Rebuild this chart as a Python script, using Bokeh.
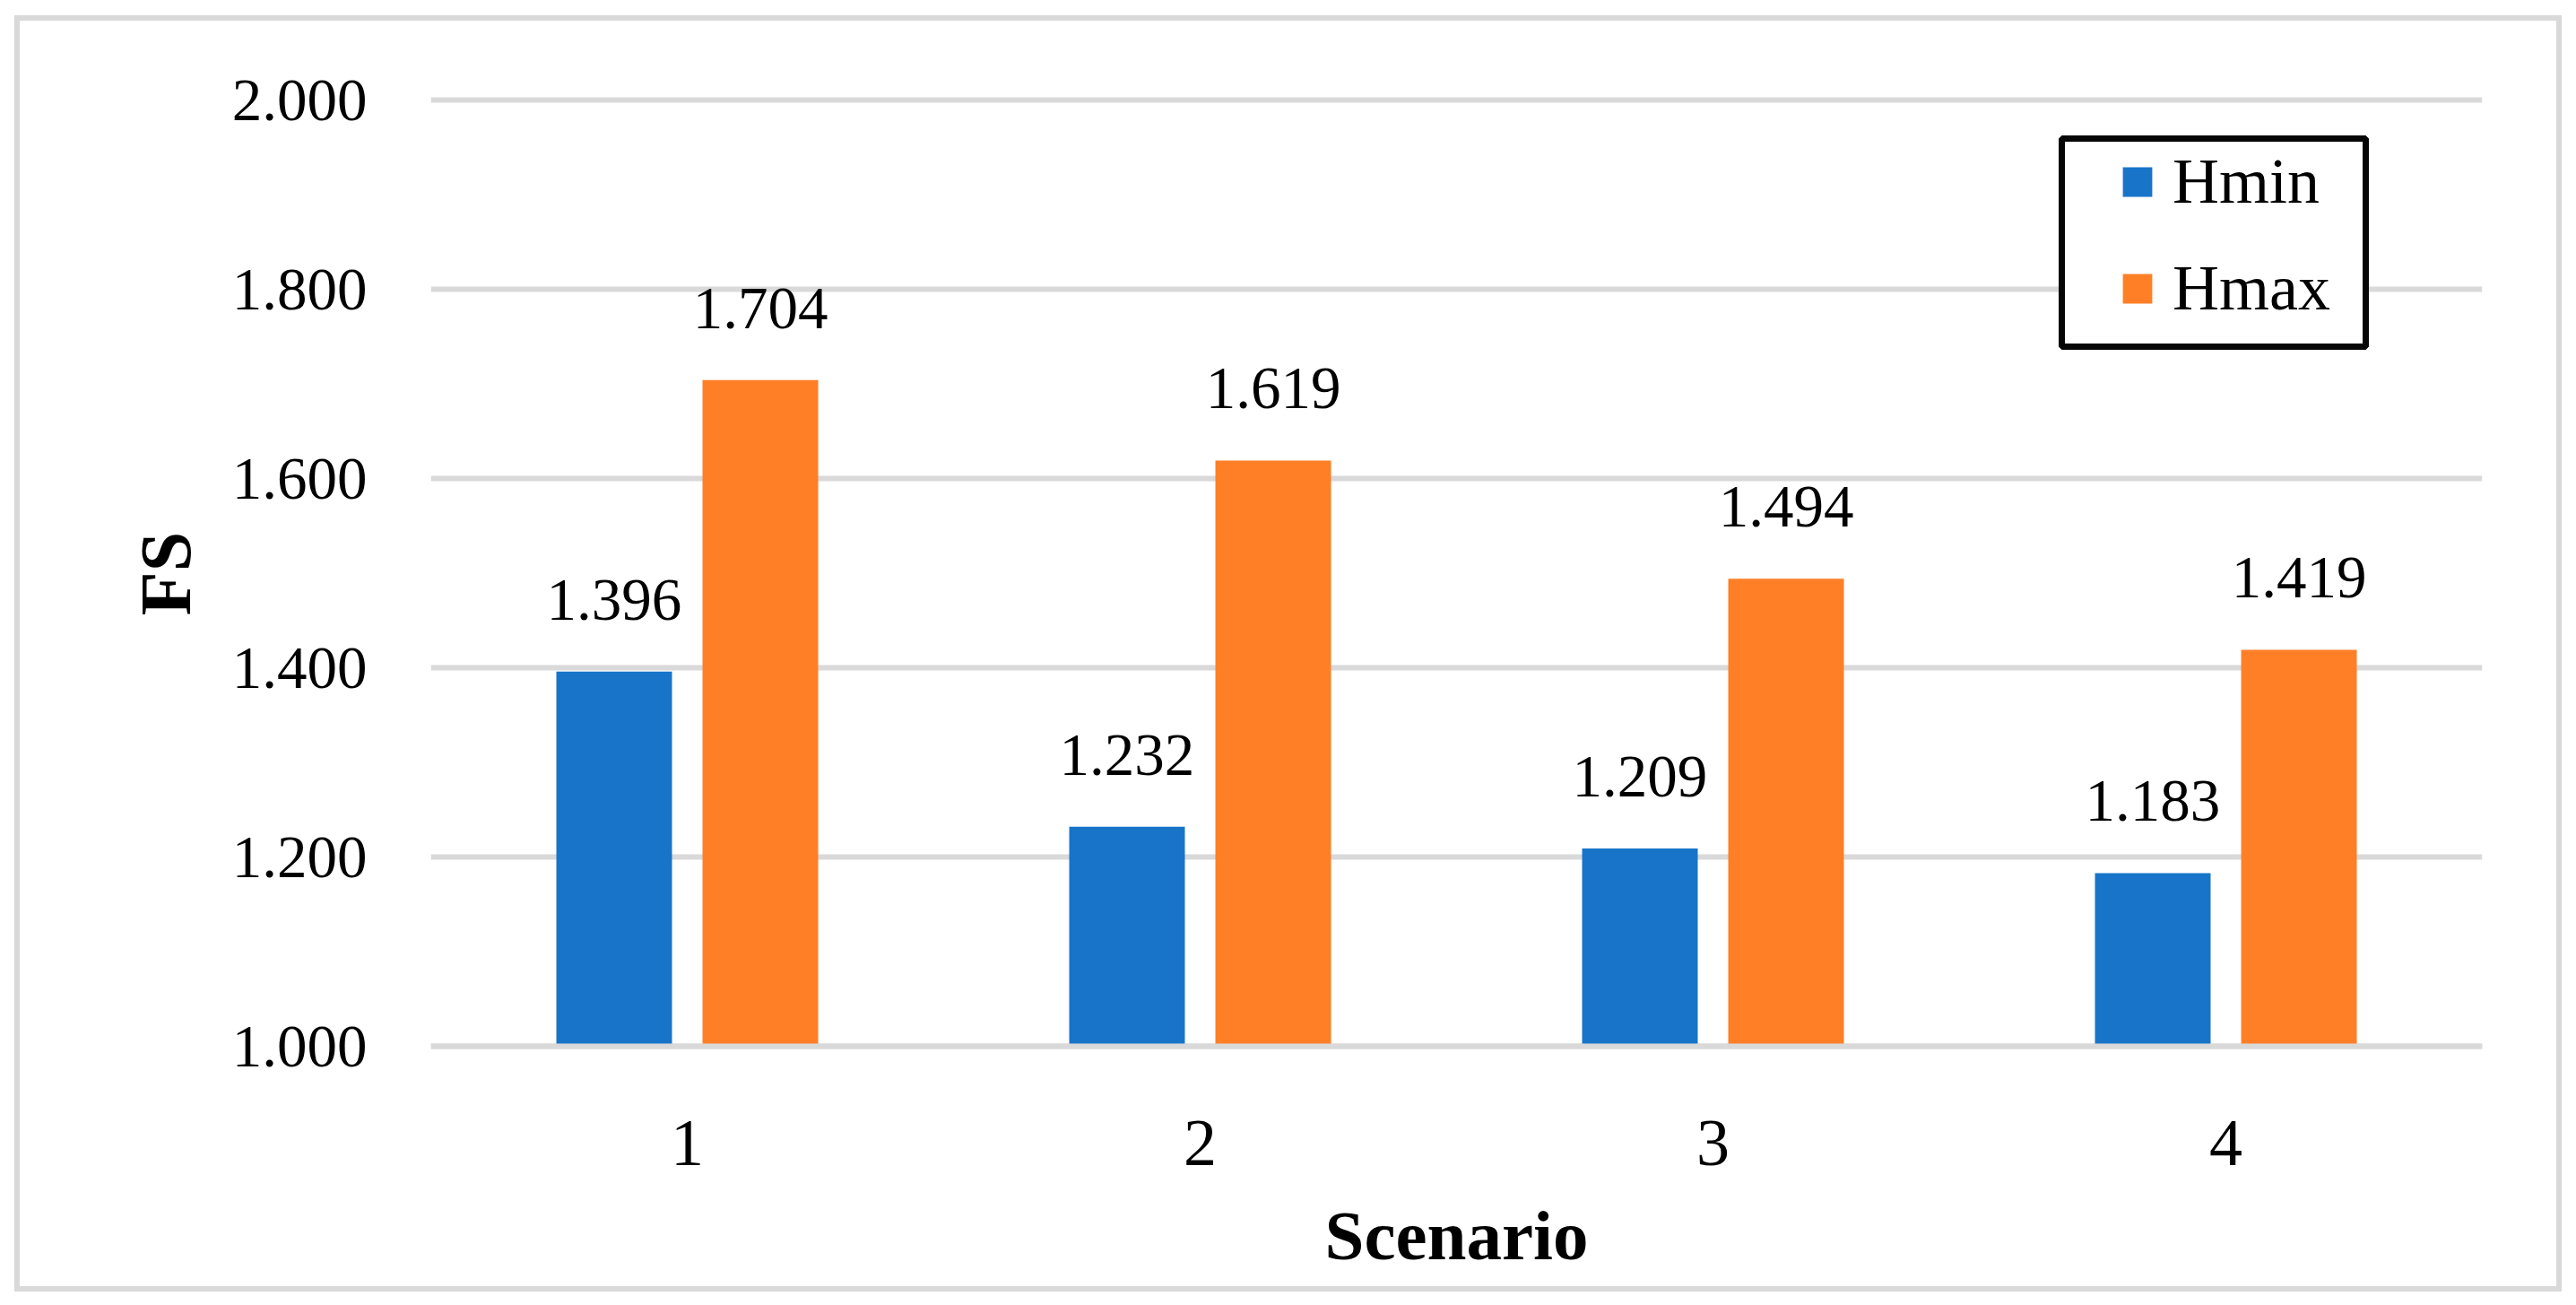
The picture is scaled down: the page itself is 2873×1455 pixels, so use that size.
from bokeh.plotting import figure
from bokeh.models import (FactorRange, Range1d, FixedTicker, NumeralTickFormatter, Span,
                          BoxAnnotation, Legend, LegendItem, ColumnDataSource)
from bokeh.transform import dodge
from bokeh.core.properties import value
from bokeh.embed import file_html
from bokeh.resources import INLINE

# ---- data ----
scenarios = ["1", "2", "3", "4"]
hmin = [1.396, 1.232, 1.209, 1.183]
hmax = [1.704, 1.619, 1.494, 1.419]
y_ticks = [1.0, 1.2, 1.4, 1.6, 1.8, 2.0]
series_names = ["Hmin", "Hmax"]
x_title = "Scenario"
y_title = "FS"

FONT = "Liberation Serif"
BLUE = "#1874C9"
ORANGE = "#FF7F27"
GRID = "#D9D9D9"

src = ColumnDataSource(dict(
    s=scenarios, hmin=hmin, hmax=hmax,
    hmin_t=[f"{v:.3f}" for v in hmin],
    hmax_t=[f"{v:.3f}" for v in hmax],
))

W, H = 2857, 1445
ML, MT = 480, 100
MR = W - 2768
MB = H - 1178
px_per_unit = 1055.0
y0 = y_ticks[0] - 12 / px_per_unit
y1 = y_ticks[-1] + 11 / px_per_unit

# light grey frame round the whole chart, drawn as the page element's background
g = f"linear-gradient({GRID}, {GRID})"
chart_frame_css = {
    "background-color": "white",
    "background-image": ", ".join([g] * 4),
    "background-size": "2841px 6px, 2841px 6px, 6px 1423px, 6px 1423px",
    "background-position": "16px 17px, 16px 1434px, 16px 17px, 2851px 17px",
    "background-repeat": "no-repeat",
}

p = figure(x_range=FactorRange(*scenarios), y_range=Range1d(y0, y1),
           width=W, height=H, output_backend="svg", toolbar_location=None,
           min_border_left=ML, min_border_right=MR, min_border_top=MT, min_border_bottom=MB,
           outline_line_color=None, background_fill_color="white", border_fill_color=None,
           styles=chart_frame_css)

off = 0.1425
bw = 0.2255
r1 = p.vbar(x=dodge("s", -off, range=p.x_range), top="hmin", bottom=y_ticks[0], width=bw,
            source=src, fill_color=BLUE, line_color=None)
r2 = p.vbar(x=dodge("s", off, range=p.x_range), top="hmax", bottom=y_ticks[0], width=bw,
            source=src, fill_color=ORANGE, line_color=None)

for col, o in (("hmin", -off), ("hmax", off)):
    p.text(x=dodge("s", o, range=p.x_range), y=col, text=col + "_t", source=src,
           text_font=value(FONT), text_font_size="67px", text_align="center",
           text_baseline="alphabetic", y_offset=-80, text_color="black")

# baseline (category axis line)
p.add_layout(Span(location=y_ticks[0], dimension="width", line_color=GRID, line_width=6))

# grid
p.xgrid.visible = False
p.ygrid.ticker = FixedTicker(ticks=y_ticks)
p.ygrid.grid_line_color = GRID
p.ygrid.grid_line_width = 6

# y axis
ya = p.yaxis[0]
ya.ticker = FixedTicker(ticks=y_ticks)
ya.formatter = NumeralTickFormatter(format="0.000")
ya.axis_line_color = None
ya.major_tick_line_color = None
ya.minor_tick_line_color = None
ya.major_tick_out = 0
ya.major_tick_in = 0
ya.major_label_standoff = 71
ya.major_label_text_font = FONT
ya.major_label_text_font_size = "67px"
ya.major_label_text_color = "black"
ya.axis_label = y_title
ya.axis_label_text_font = FONT
ya.axis_label_text_font_style = "bold"
ya.axis_label_text_font_size = "80px"
ya.axis_label_text_color = "black"
ya.axis_label_standoff = 27

# x axis
xa = p.xaxis[0]
xa.axis_line_color = None
xa.major_tick_line_color = None
xa.minor_tick_line_color = None
xa.major_tick_out = 0
xa.major_tick_in = 0
xa.major_label_standoff = 71
xa.major_label_text_font = FONT
xa.major_label_text_font_size = "74px"
xa.major_label_text_color = "black"
xa.axis_label = x_title
xa.axis_label_text_font = FONT
xa.axis_label_text_font_style = "bold"
xa.axis_label_text_font_size = "79px"
xa.axis_label_text_color = "black"
xa.axis_label_standoff = 32

# legend frame
p.add_layout(BoxAnnotation(left=2299, right=2638, top=154, bottom=386,
                           left_units="canvas", right_units="canvas",
                           top_units="canvas", bottom_units="canvas",
                           fill_color="white", fill_alpha=1.0,
                           line_color="#060606", line_alpha=1.0, line_width=7))

legend = Legend(items=[LegendItem(label=series_names[0], renderers=[r1]),
                       LegendItem(label=series_names[1], renderers=[r2])],
                location=(1883, 815), padding=0, margin=0, spacing=36,
                glyph_width=41, glyph_height=41, label_height=80, label_standoff=19,
                label_text_font=FONT, label_text_font_size="72px", label_text_color="black",
                border_line_color=None, background_fill_alpha=0)
p.add_layout(legend)

open("out.html", "w").write(file_html(p, INLINE))
